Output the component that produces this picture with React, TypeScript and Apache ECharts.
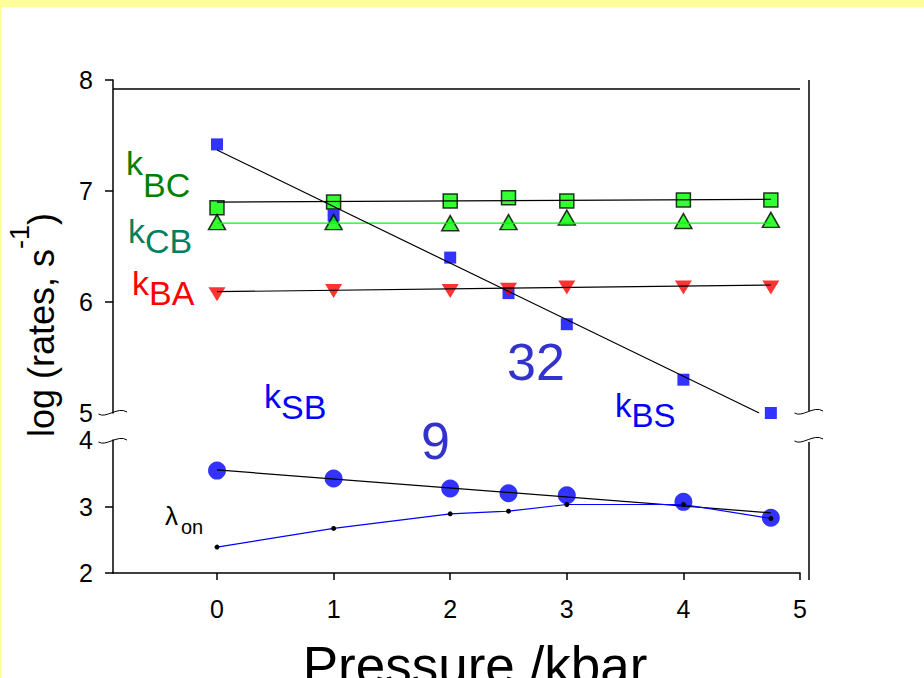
import React, { useEffect, useRef } from "react";
import * as echarts from "echarts";

// ---- data ----
const pressure = [0, 1, 2, 2.5, 3, 4, 4.75];
const kBS = [7.42, 6.78, 6.4, 6.08, 5.8, 5.3, 5.0];
const kBC = [6.85, 6.9, 6.91, 6.94, 6.91, 6.92, 6.92];
const kCB = [6.72, 6.72, 6.71, 6.72, 6.76, 6.73, 6.74];
const kBA = [6.07, 6.1, 6.1, 6.11, 6.13, 6.13, 6.13];
const kSB = [3.54, 3.42, 3.27, 3.2, 3.17, 3.07, 2.83];
const lambdaOn = [2.39, 2.67, 2.89, 2.93, 3.03, 3.03, 2.82];

// straight fitted lines (end points)
const fitBS = [[0, 7.37], [4.65, 5.0]];
const fitBC = [[0, 6.9], [4.75, 6.925]];
const lineCB = [[0, 6.71], [4.75, 6.71]];
const fitBA = [[0, 6.093], [4.75, 6.153]];
const fitSB = [[0, 3.55], [4.75, 2.905]];

const xTicks = [0, 1, 2, 3, 4, 5];
const upperTicks = [6, 7, 8];
const upperLabels = [5, 6, 7, 8];
const lowerTicks = [2, 3];
const lowerLabels = [2, 3, 4];

const FONT = "'Liberation Sans', Arial, Helvetica, sans-serif";

function txt(x: number, baseline: number, s: string, fs: number, color: string) {
  return {
    type: "text",
    x,
    y: baseline - 0.3465 * fs,
    silent: true,
    style: {
      text: s,
      fontSize: fs,
      fontFamily: FONT,
      fill: color,
      align: "left",
      verticalAlign: "middle",
    },
  };
}

function squiggle(cx: number, cy: number) {
  return {
    type: "bezierCurve",
    silent: true,
    shape: {
      x1: cx - 14.5,
      y1: cy + 1,
      cpx1: cx - 7,
      cpy1: cy + 6,
      cpx2: cx + 5,
      cpy2: cy - 7,
      x2: cx + 14,
      y2: cy - 1,
    },
    style: { stroke: "#000", lineWidth: 1, fill: null },
  };
}

export default function App() {
  const ref = useRef<HTMLDivElement>(null);

  useEffect(() => {
    const chart = echarts.init(ref.current!, null, { renderer: "svg" });
    const pts = (ys: number[]) => pressure.map((x, i) => [x, ys[i]]);

    const axisLineStyle = { color: "#000", width: 1.5 };
    const labelStyle = { fontSize: 25, color: "#000", fontFamily: FONT };

    const option: any = {
      animation: false,
      backgroundColor: "#ffffff",
      grid: [
        { left: 113, top: 80, width: 687, height: 333, outerBoundsMode: "none", containLabel: false },
        { left: 113, top: 440, width: 687, height: 133, outerBoundsMode: "none", containLabel: false },
      ],
      xAxis: [
        { gridIndex: 0, type: "value", min: -0.892, max: 5, show: false },
        {
          gridIndex: 1,
          type: "value",
          min: -0.892,
          max: 5,
          axisLine: { show: true, onZero: false, lineStyle: axisLineStyle },
          axisTick: { show: true, customValues: xTicks, length: 7, lineStyle: axisLineStyle },
          axisLabel: { show: true, customValues: xTicks, margin: 23, ...labelStyle },
          splitLine: { show: false },
        },
      ],
      yAxis: [
        {
          gridIndex: 0,
          type: "value",
          min: 5,
          max: 8,
          interval: 1,
          axisLine: { show: true, onZero: false, lineStyle: axisLineStyle },
          axisTick: { show: true, customValues: upperTicks, length: 8, lineStyle: axisLineStyle },
          axisLabel: { show: true, customValues: upperLabels, margin: 20, ...labelStyle },
          splitLine: { show: false },
        },
        {
          gridIndex: 1,
          type: "value",
          min: 2,
          max: 4,
          interval: 1,
          axisLine: { show: true, onZero: false, lineStyle: axisLineStyle },
          axisTick: { show: true, customValues: lowerTicks, length: 8, lineStyle: axisLineStyle },
          axisLabel: { show: true, customValues: lowerLabels, margin: 20, ...labelStyle },
          splitLine: { show: false },
        },
      ],
      series: [
        {
          name: "kBS",
          type: "scatter",
          xAxisIndex: 0,
          yAxisIndex: 0,
          symbol: "rect",
          symbolSize: 12,
          itemStyle: { color: "#0000ff" },
          data: pts(kBS),
        },
        {
          name: "kBC",
          type: "scatter",
          xAxisIndex: 0,
          yAxisIndex: 0,
          symbol: "rect",
          symbolSize: 14,
          itemStyle: { color: "#00ff00", borderColor: "#000", borderWidth: 1.5 },
          data: pts(kBC),
        },
        {
          name: "kCB",
          type: "scatter",
          xAxisIndex: 0,
          yAxisIndex: 0,
          symbol: "triangle",
          symbolSize: [17, 15],
          itemStyle: { color: "#00ff00", borderColor: "#000", borderWidth: 1.5 },
          data: pts(kCB),
        },
        {
          name: "kBA",
          type: "scatter",
          xAxisIndex: 0,
          yAxisIndex: 0,
          symbol: "triangle",
          symbolRotate: 180,
          symbolSize: [17, 14],
          itemStyle: { color: "#ff0000" },
          data: pts(kBA),
        },
        {
          name: "kCB line",
          type: "line",
          xAxisIndex: 0,
          yAxisIndex: 0,
          showSymbol: false,
          lineStyle: { color: "#00ff00", width: 1.2 },
          data: lineCB,
        },
        {
          name: "kBC fit",
          type: "line",
          xAxisIndex: 0,
          yAxisIndex: 0,
          showSymbol: false,
          lineStyle: { color: "#000", width: 1.2 },
          data: fitBC,
        },
        {
          name: "kBA fit",
          type: "line",
          xAxisIndex: 0,
          yAxisIndex: 0,
          showSymbol: false,
          lineStyle: { color: "#000", width: 1.2 },
          data: fitBA,
        },
        {
          name: "kBS fit",
          type: "line",
          xAxisIndex: 0,
          yAxisIndex: 0,
          showSymbol: false,
          lineStyle: { color: "#000", width: 1.2 },
          data: fitBS,
        },
        {
          name: "kSB",
          type: "scatter",
          xAxisIndex: 1,
          yAxisIndex: 1,
          symbol: "circle",
          symbolSize: 18,
          itemStyle: { color: "#0000ff" },
          data: pts(kSB),
        },
        {
          name: "kSB fit",
          type: "line",
          xAxisIndex: 1,
          yAxisIndex: 1,
          showSymbol: false,
          lineStyle: { color: "#000", width: 1.2 },
          data: fitSB,
        },
        {
          name: "lambda_on",
          type: "line",
          xAxisIndex: 1,
          yAxisIndex: 1,
          symbol: "circle",
          symbolSize: 5,
          showSymbol: true,
          itemStyle: { color: "#000" },
          lineStyle: { color: "#0000ff", width: 1.2 },
          data: pts(lambdaOn),
        },
      ],
      graphic: [
        { type: "rect", silent: true, shape: { x: 0, y: 0, width: 924, height: 7 }, style: { fill: "#ffff99" } },
        { type: "rect", silent: true, shape: { x: 0, y: 0, width: 1.5, height: 678 }, style: { fill: "#ffff99" } },
        { type: "line", silent: true, shape: { x1: 113, y1: 89, x2: 800, y2: 89 }, style: { stroke: "#000", lineWidth: 1.5 } },
        { type: "line", silent: true, shape: { x1: 809, y1: 80, x2: 809, y2: 411 }, style: { stroke: "#000", lineWidth: 1.5 } },
        { type: "line", silent: true, shape: { x1: 809, y1: 442, x2: 809, y2: 580 }, style: { stroke: "#000", lineWidth: 1.5 } },
        squiggle(113, 413),
        squiggle(113, 441),
        squiggle(809, 412),
        squiggle(809, 440),
        txt(126, 175, "k", 34, "#008000"),
        txt(143, 197, "BC", 34, "#008000"),
        txt(128, 243, "k", 34, "#008060"),
        txt(145, 253, "CB", 34, "#008060"),
        txt(132, 295, "k", 34, "#ff0000"),
        txt(149, 305, "BA", 34, "#ff0000"),
        txt(264, 408, "k", 34, "#0000ff"),
        txt(281, 419, "SB", 34, "#0000ff"),
        txt(615, 417, "k", 33, "#0000ff"),
        txt(631.5, 427, "BS", 33, "#0000ff"),
        txt(507, 380, "32", 52, "#3333cc"),
        txt(421, 459, "9", 52, "#3333cc"),
        txt(165, 525, "λ", 26, "#000"),
        txt(181, 534, "on", 20, "#000"),
        {
          type: "text",
          x: 475,
          y: 665,
          silent: true,
          style: {
            text: "Pressure /kbar",
            fontSize: 53,
            fontFamily: FONT,
            fill: "#000",
            align: "center",
            verticalAlign: "middle",
          },
        },
        {
          type: "text",
          x: 41,
          y: 325,
          rotation: Math.PI / 2,
          silent: true,
          style: {
            text: "{a|log (rates, s}{b|-1}{a|)}",
            align: "center",
            verticalAlign: "middle",
            fontFamily: FONT,
            fontSize: 36,
            fill: "#000",
            rich: {
              a: { fontSize: 36, fontFamily: FONT, fill: "#000", lineHeight: 70 },
              b: { fontSize: 27, fontFamily: FONT, fill: "#000", lineHeight: 27, verticalAlign: "top" },
            },
          },
        },
      ],
    };

    chart.setOption(option);
    return () => chart.dispose();
  }, []);

  return (
    <div
      ref={ref}
      style={{ position: "absolute", left: 0, top: 0, width: 924, height: 678 }}
    />
  );
}
